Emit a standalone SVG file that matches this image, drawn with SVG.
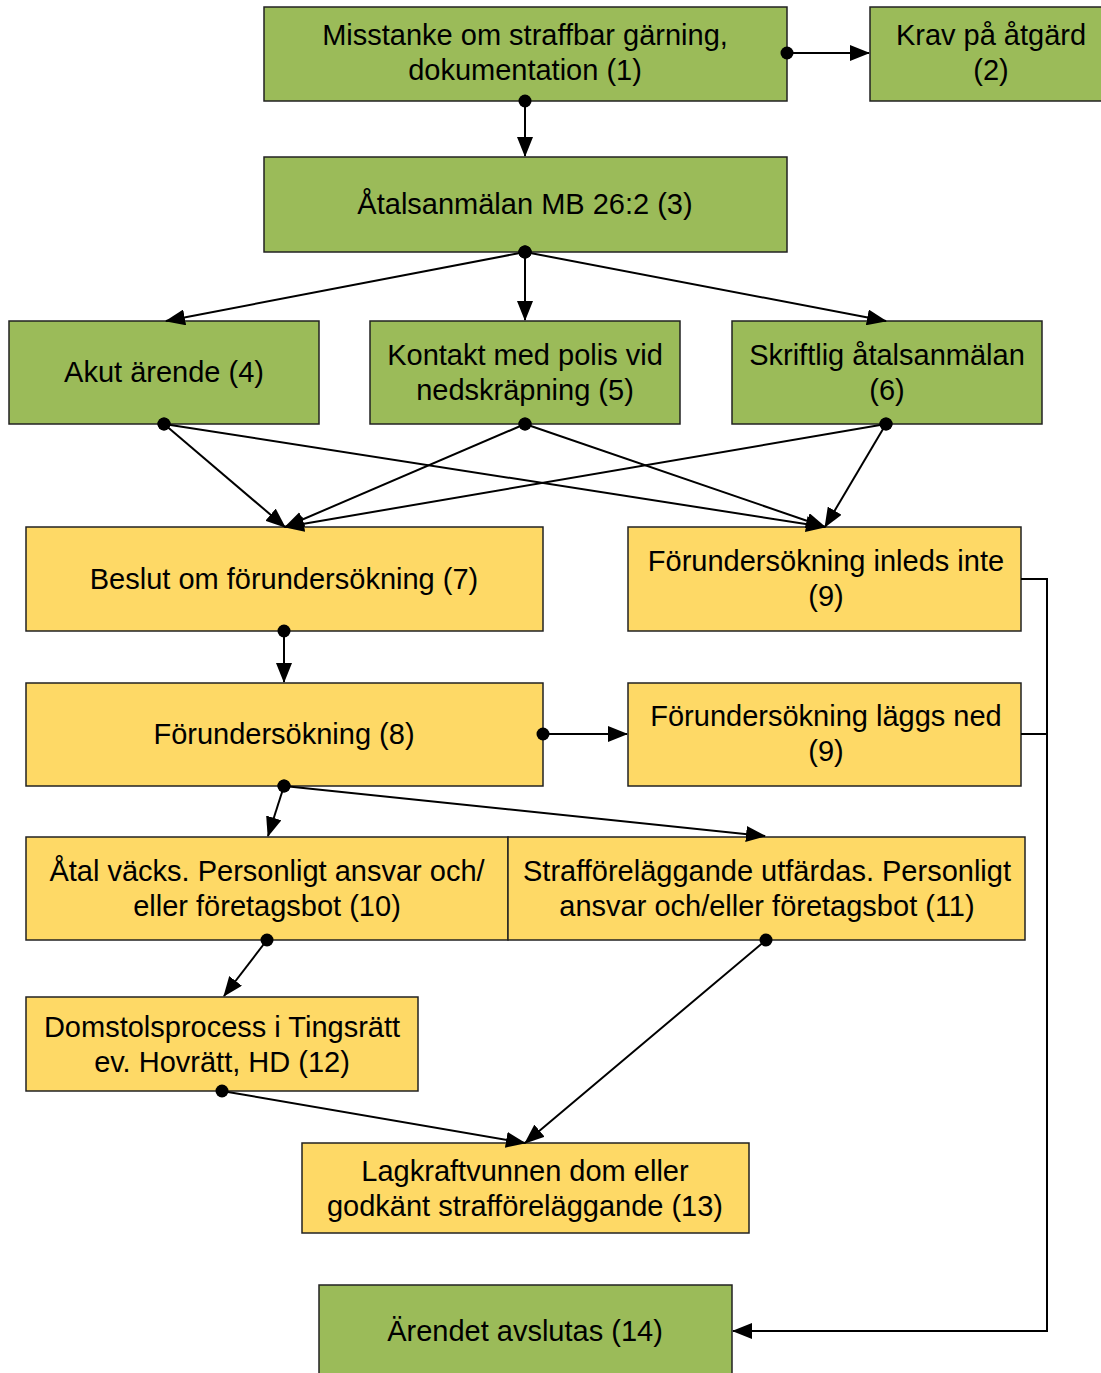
<svg xmlns="http://www.w3.org/2000/svg" width="1101" height="1373" viewBox="0 0 1101 1373">
<style>
.g{fill:#9BBB59;stroke:#222;stroke-width:1.5}
.y{fill:#FED966;stroke:#222;stroke-width:1.5}
text{font-family:"Liberation Sans",Arial,sans-serif;font-size:29px;fill:#000;text-anchor:middle}
.c path{fill:none;stroke:#000;stroke-width:2}
.a{marker-start:url(#dot);marker-end:url(#arr)}
</style>
<defs>
<marker id="arr" markerUnits="userSpaceOnUse" markerWidth="20" markerHeight="16" refX="19" refY="8" orient="auto" viewBox="0 0 20 16"><path d="M0,0 L20,8 L0,16 z" fill="#000"/></marker>
<marker id="dot" markerUnits="userSpaceOnUse" markerWidth="14" markerHeight="14" refX="7" refY="7" viewBox="0 0 14 14"><circle cx="7" cy="7" r="6.5" fill="#000"/></marker>
</defs>
<rect width="1101" height="1373" fill="#fff"/>
<g id="n1"><rect class="g" x="264" y="7" width="523" height="94"/><text x="525" y="45">Misstanke om straffbar gärning,</text><text x="525" y="80">dokumentation (1)</text></g>
<g id="n2"><rect class="g" x="870" y="7" width="240" height="94"/><text x="991" y="45">Krav på åtgärd</text><text x="991" y="80">(2)</text></g>
<g id="n3"><rect class="g" x="264" y="157" width="523" height="95"/><text x="525" y="214">Åtalsanmälan MB 26:2 (3)</text></g>
<g id="n4"><rect class="g" x="9" y="321" width="310" height="103"/><text x="164" y="382">Akut ärende (4)</text></g>
<g id="n5"><rect class="g" x="370" y="321" width="310" height="103"/><text x="525" y="365">Kontakt med polis vid</text><text x="525" y="400">nedskräpning (5)</text></g>
<g id="n6"><rect class="g" x="732" y="321" width="310" height="103"/><text x="887" y="365">Skriftlig åtalsanmälan</text><text x="887" y="400">(6)</text></g>
<g id="n7"><rect class="y" x="26" y="527" width="517" height="104"/><text x="284" y="589">Beslut om förundersökning (7)</text></g>
<g id="n9a"><rect class="y" x="628" y="527" width="393" height="104"/><text x="826" y="571">Förundersökning inleds inte</text><text x="826" y="606">(9)</text></g>
<g id="n8"><rect class="y" x="26" y="683" width="517" height="103"/><text x="284" y="744">Förundersökning (8)</text></g>
<g id="n9b"><rect class="y" x="628" y="683" width="393" height="103"/><text x="826" y="726">Förundersökning läggs ned</text><text x="826" y="761">(9)</text></g>
<g id="n10"><rect class="y" x="26" y="837" width="482" height="103"/><text x="267" y="881">Åtal väcks. Personligt ansvar och/</text><text x="267" y="916">eller företagsbot (10)</text></g>
<g id="n11"><rect class="y" x="508" y="837" width="517" height="103"/><text x="767" y="881">Strafföreläggande utfärdas. Personligt</text><text x="767" y="916">ansvar och/eller företagsbot (11)</text></g>
<g id="n12"><rect class="y" x="26" y="997" width="392" height="94"/><text x="222" y="1037">Domstolsprocess i Tingsrätt</text><text x="222" y="1072">ev. Hovrätt, HD (12)</text></g>
<g id="n13"><rect class="y" x="302" y="1143" width="447" height="90"/><text x="525" y="1181">Lagkraftvunnen dom eller</text><text x="525" y="1216">godkänt strafföreläggande (13)</text></g>
<g id="n14"><rect class="g" x="319" y="1285" width="413" height="100"/><text x="525" y="1341">Ärendet avslutas (14)</text></g>
<g class="c">
<path class="a" d="M787,53 L869,53"/>
<path class="a" d="M525,101 L525,156"/>
<path class="a" d="M525,252 L166,321"/>
<path class="a" d="M525,252 L525,320"/>
<path class="a" d="M525,252 L886,321"/>
<path class="a" d="M164,424 L285,527"/>
<path class="a" d="M164,424 L825,527"/>
<path class="a" d="M525,424 L285,527"/>
<path class="a" d="M525,424 L825,527"/>
<path class="a" d="M886,424 L285,527"/>
<path class="a" d="M886,424 L825,527"/>
<path class="a" d="M284,631 L284,682"/>
<path class="a" d="M543,734 L627,734"/>
<path d="M1021,579 L1047,579 L1047,734 L1021,734"/>
<path style="marker-end:url(#arr)" d="M1047,734 L1047,1331 L733,1331"/>
<path class="a" d="M284,786 L268,836"/>
<path class="a" d="M284,786 L765,836"/>
<path class="a" d="M267,940 L224,996"/>
<path class="a" d="M766,940 L525,1143"/>
<path class="a" d="M222,1091 L525,1143"/>
</g>
</svg>
